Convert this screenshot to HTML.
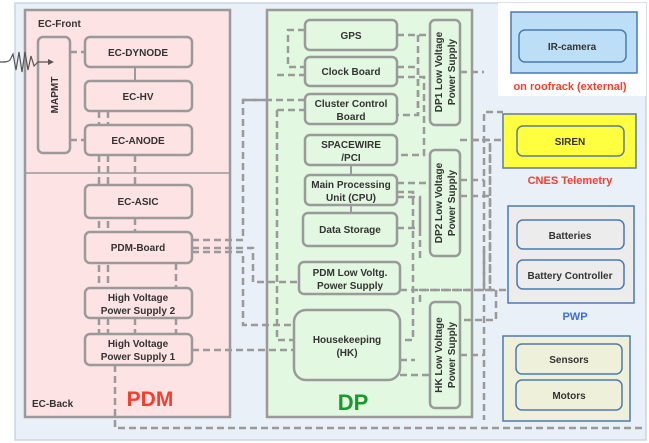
<!DOCTYPE html>
<html><head><meta charset="utf-8"><style>
html,body{margin:0;padding:0;background:#fff;}
svg{display:block;font-family:"Liberation Sans",sans-serif;font-weight:bold;}
</style></head><body>
<svg width="649" height="443" viewBox="0 0 649 443" xmlns="http://www.w3.org/2000/svg">
<rect x="15" y="3" width="631" height="437" fill="#e9f0f8" stroke="#c9d6e6" stroke-width="1.5"/>
<rect x="498" y="3" width="148" height="93" fill="#fff"/>
<!-- PDM -->
<rect x="25" y="10" width="205" height="407" fill="#fde3e3" stroke="#9a9a9a" stroke-width="2.5"/>
<line x1="25" y1="173" x2="230" y2="173" stroke="#9a9a9a" stroke-width="1.5"/>
<!-- DP -->
<rect x="267" y="10" width="205" height="407" fill="#e2f8e0" stroke="#9a9a9a" stroke-width="2.5"/>
<g fill="none" stroke="#9a9a9a" stroke-width="2.5" stroke-dasharray="7,4">
<!-- PDM internals -->
<path d="M70 52H85M70 140H85"/>
<path d="M99 111V288M108 111V288M99 318V334M108 318V334"/>
<path d="M135 155V185M135 218V232M135 318V334M176 263V334"/>
<path d="M115 365V428H642"/>
<path d="M192 240H243V100H267"/>
<path d="M192 248H253V282H299"/>
<path d="M192 252H243V325H294"/>
<path d="M192 350H294"/>
<path d="M243 100H305M277 110V340H294M277 110H305"/>
<path d="M305 30H288V67H305"/>
<path d="M277 75H305"/>
<!-- DP right connections -->
<path d="M397 35H430M397 67H418V115H397M397 77H424V155H397"/>
<path d="M418 35V115"/>
<path d="M397 183H430M397 192H413V340H400M397 197H420V260M397 228H420M420 200V232"/>
<path d="M400 360H415M400 375H430"/>
<path d="M400 290H484V112H503"/>
<path d="M460 72H484"/>
<path d="M460 140H490V290M460 180H484"/>
<path d="M460 196H490M490 145V290H508"/>
<path d="M484 250V420M460 355H484M420 302V290H496V320H460"/>
<path d="M472 140H503"/>
</g>
<!-- PDM boxes -->
<g fill="#fde3e3" stroke="#9a9a9a" stroke-width="2.5">
<rect x="38" y="37" width="32" height="116" rx="5"/>
<rect x="85" y="37" width="107" height="30" rx="5"/>
<rect x="85" y="81" width="107" height="30" rx="5"/>
<rect x="85" y="125" width="107" height="30" rx="5"/>
<rect x="85" y="185" width="107" height="33" rx="5"/>
<rect x="85" y="232" width="107" height="31" rx="5"/>
<rect x="85" y="288" width="107" height="30" rx="5"/>
<rect x="85" y="334" width="107" height="31" rx="5"/>
</g>
<g fill="#e2f8e0" stroke="#9a9a9a" stroke-width="2.5">
<rect x="305" y="20" width="92" height="30" rx="5"/>
<rect x="305" y="57" width="92" height="29" rx="5"/>
<rect x="305" y="94" width="92" height="30" rx="5"/>
<rect x="305" y="135" width="92" height="30" rx="5"/>
<rect x="305" y="175" width="92" height="30" rx="5"/>
<rect x="303" y="213" width="94" height="33" rx="5"/>
<rect x="299" y="262" width="101" height="32" rx="5"/>
<rect x="294" y="310" width="106" height="70" rx="12"/>
<rect x="430" y="20" width="30" height="105" rx="5"/>
<rect x="430" y="150" width="30" height="106" rx="5"/>
<rect x="430" y="302" width="30" height="106" rx="5"/>
</g>
<line x1="351" y1="165" x2="351" y2="175" stroke="#9a9a9a" stroke-width="2"/>
<line x1="351" y1="205" x2="351" y2="213" stroke="#9a9a9a" stroke-width="2"/>
<line x1="135" y1="67" x2="135" y2="81" stroke="#9a9a9a" stroke-width="2"/>
<!-- wave -->
<path d="M0 62 C6 62 8 62 10 60 L13 54 L16 70 L19 52 L22 72 L25 52 L28 70 L31 56 L34 66 L38 62 L48 62" fill="none" stroke="#555" stroke-width="1.2"/>
<path d="M48 59L54 62L48 65Z" fill="#555"/>
<!-- right boxes -->
<rect x="511" y="12" width="126" height="61" fill="#bcdff7" stroke="#4a7ab0" stroke-width="1.5"/>
<rect x="519" y="30" width="107" height="32" rx="6" fill="#bcdff7" stroke="#4a7ab0" stroke-width="1.5"/>
<rect x="503" y="114" width="133" height="54" fill="#ffff40" stroke="#5a7a9f" stroke-width="1.5"/>
<rect x="517" y="126" width="107" height="30" rx="6" fill="#ffff40" stroke="#5a7a9f" stroke-width="1.5"/>
<rect x="508" y="206" width="126" height="97" fill="#ececec" stroke="#4a7ab0" stroke-width="1.5"/>
<rect x="517" y="220" width="107" height="29" rx="6" fill="#ececec" stroke="#4a7ab0" stroke-width="1.5"/>
<rect x="517" y="260" width="107" height="29" rx="6" fill="#ececec" stroke="#4a7ab0" stroke-width="1.5"/>
<rect x="503" y="336" width="127" height="85" fill="#eef0d9" stroke="#4a7ab0" stroke-width="1.5"/>
<rect x="516" y="344" width="106" height="30" rx="6" fill="#eef0d9" stroke="#4a7ab0" stroke-width="1.5"/>
<rect x="516" y="380" width="106" height="30" rx="6" fill="#eef0d9" stroke="#4a7ab0" stroke-width="1.5"/>
<!-- text -->
<g font-size="10" fill="#333" text-anchor="middle">
<text x="138" y="56">EC-DYNODE</text>
<text x="138" y="100">EC-HV</text>
<text x="138" y="144">EC-ANODE</text>
<text x="138" y="205">EC-ASIC</text>
<text x="138" y="251">PDM-Board</text>
<text x="138" y="301">High Voltage</text>
<text x="138" y="314">Power Supply 2</text>
<text x="138" y="347">High Voltage</text>
<text x="138" y="360">Power Supply 1</text>
<text transform="translate(58,95) rotate(-90)">MAPMT</text>
<text x="351" y="39">GPS</text>
<text x="351" y="75">Clock Board</text>
<text x="351" y="107">Cluster Control</text>
<text x="351" y="120">Board</text>
<text x="351" y="148">SPACEWIRE</text>
<text x="351" y="161">/PCI</text>
<text x="351" y="188">Main Processing</text>
<text x="351" y="201">Unit (CPU)</text>
<text x="350" y="233">Data Storage</text>
<text x="350" y="276">PDM Low Voltg.</text>
<text x="350" y="289">Power Supply</text>
<text x="347" y="343">Housekeeping</text>
<text x="347" y="356">(HK)</text>
<text transform="translate(442,72) rotate(-90)">DP1 Low Voltage</text>
<text transform="translate(455,72) rotate(-90)">Power Supply</text>
<text transform="translate(442,203) rotate(-90)">DP2 Low Voltage</text>
<text transform="translate(455,203) rotate(-90)">Power Supply</text>
<text transform="translate(442,355) rotate(-90)">HK Low Voltage</text>
<text transform="translate(455,355) rotate(-90)">Power Supply</text>
<text x="572" y="50">IR-camera</text>
<text x="570" y="145">SIREN</text>
<text x="570" y="239">Batteries</text>
<text x="570" y="279">Battery Controller</text>
<text x="569" y="363">Sensors</text>
<text x="569" y="399">Motors</text>
</g>
<g font-size="10" fill="#333">
<text x="38" y="27">EC-Front</text>
<text x="32" y="407">EC-Back</text>
</g>
<text x="150" y="406" font-size="21" fill="#f0402f" text-anchor="middle">PDM</text>
<text x="353" y="410" font-size="22" fill="#1a9a2a" text-anchor="middle">DP</text>
<g font-size="11" text-anchor="middle">
<text x="570" y="90" fill="#f0402f">on roofrack (external)</text>
<text x="570" y="184" fill="#f0402f">CNES Telemetry</text>
<text x="575" y="320" fill="#3a6ee0">PWP</text>
</g>
</svg>
</body></html>
